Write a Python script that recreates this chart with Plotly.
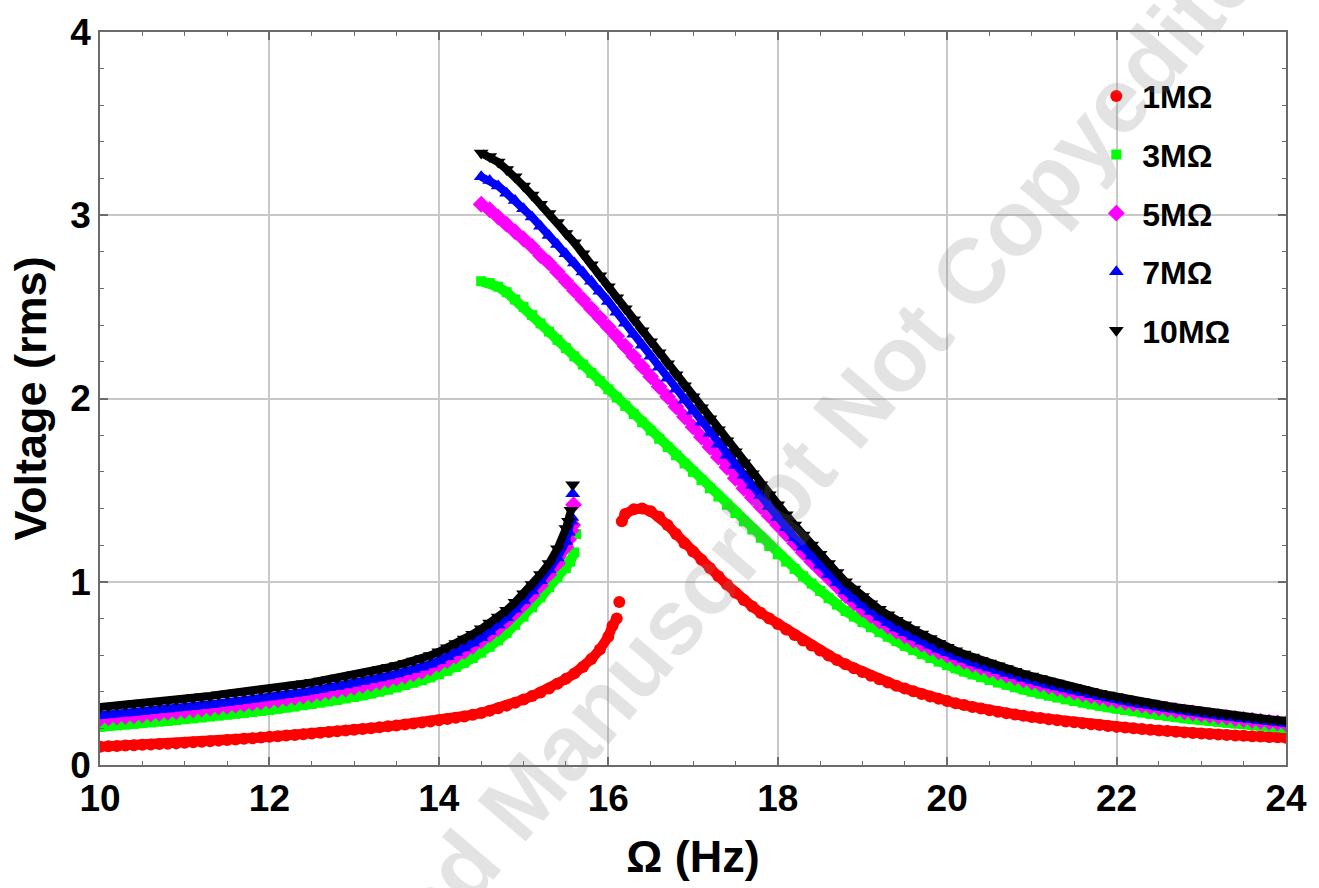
import plotly.graph_objects as go

# ---------------- data ----------------
X_LOW = [10.0, 10.1, 10.2, 10.3, 10.4, 10.5, 10.6, 10.7, 10.8, 10.9,
         11.0, 11.1, 11.2, 11.3, 11.4, 11.5, 11.6, 11.7, 11.8, 11.9,
         12.0, 12.1, 12.2, 12.3, 12.4, 12.5, 12.6, 12.7, 12.8, 12.9,
         13.0, 13.1, 13.2, 13.3, 13.4, 13.5, 13.6, 13.7, 13.8, 13.9,
         14.0, 14.1, 14.2, 14.3, 14.4, 14.5, 14.6, 14.7, 14.8, 14.9,
         15.0, 15.1, 15.2, 15.3, 15.4, 15.5]

X_UP = [14.5, 14.6, 14.7, 14.8, 14.9,
        15.0, 15.1, 15.2, 15.3, 15.4, 15.5, 15.6, 15.7, 15.8, 15.9,
        16.0, 16.1, 16.2, 16.3, 16.4, 16.5, 16.6, 16.7, 16.8, 16.9,
        17.0, 17.1, 17.2, 17.3, 17.4, 17.5, 17.6, 17.7, 17.8, 17.9,
        18.0, 18.1, 18.2, 18.3, 18.4, 18.5, 18.6, 18.7, 18.8, 18.9,
        19.0, 19.1, 19.2, 19.3, 19.4, 19.5, 19.6, 19.7, 19.8, 19.9,
        20.0, 20.1, 20.2, 20.3, 20.4, 20.5, 20.6, 20.7, 20.8, 20.9,
        21.0, 21.1, 21.2, 21.3, 21.4, 21.5, 21.6, 21.7, 21.8, 21.9,
        22.0, 22.1, 22.2, 22.3, 22.4, 22.5, 22.6, 22.7, 22.8, 22.9,
        23.0, 23.1, 23.2, 23.3, 23.4, 23.5, 23.6, 23.7, 23.8, 23.9,
        24.0]

# 1 MOhm (red)
X_R1_LOW = X_LOW + [15.6, 15.7, 15.8, 15.9, 16.0, 16.05, 16.1]
Y_R1_LOW = [0.100, 0.102, 0.104, 0.106, 0.108, 0.110, 0.112, 0.114, 0.116, 0.118,
            0.121, 0.124, 0.127, 0.130, 0.133, 0.136, 0.139, 0.143, 0.146, 0.150,
            0.154, 0.157, 0.161, 0.164, 0.168, 0.172, 0.176, 0.180, 0.184, 0.188,
            0.192, 0.196, 0.201, 0.206, 0.211, 0.216, 0.221, 0.227, 0.232, 0.238,
            0.244, 0.251, 0.258, 0.265, 0.274, 0.284, 0.296, 0.310, 0.324, 0.340,
            0.357, 0.376, 0.396, 0.418, 0.443, 0.470,
            0.500, 0.535, 0.578, 0.630, 0.700, 0.760, 0.800]
X_R1_JUMP = [16.13]
Y_R1_JUMP = [0.890]
X_R1_UP = [16.16, 16.2, 16.3, 16.4, 16.5, 16.6, 16.7, 16.8, 16.9,
           17.0, 17.1, 17.2, 17.3, 17.4, 17.5, 17.6, 17.7, 17.8, 17.9,
           18.0, 18.1, 18.2, 18.3, 18.4, 18.5, 18.6, 18.7, 18.8, 18.9,
           19.0, 19.1, 19.2, 19.3, 19.4, 19.5, 19.6, 19.7, 19.8, 19.9,
           20.0, 20.1, 20.2, 20.3, 20.4, 20.5, 20.6, 20.7, 20.8, 20.9,
           21.0, 21.1, 21.2, 21.3, 21.4, 21.5, 21.6, 21.7, 21.8, 21.9,
           22.0, 22.1, 22.2, 22.3, 22.4, 22.5, 22.6, 22.7, 22.8, 22.9,
           23.0, 23.1, 23.2, 23.3, 23.4, 23.5, 23.6, 23.7, 23.8, 23.9,
           24.0]
Y_R1_UP = [1.33, 1.37, 1.395, 1.40, 1.385, 1.355, 1.31, 1.26, 1.21,
           1.165, 1.12, 1.075, 1.03, 0.985, 0.94, 0.90, 0.865, 0.83, 0.80,
           0.770, 0.740, 0.710, 0.680, 0.652, 0.625, 0.598, 0.573, 0.550, 0.528,
           0.507, 0.487, 0.468, 0.450, 0.433, 0.417, 0.402, 0.388, 0.374, 0.361,
           0.349, 0.337, 0.327, 0.317, 0.308, 0.299, 0.291, 0.283, 0.276, 0.269,
           0.262, 0.256, 0.250, 0.244, 0.238, 0.233, 0.228, 0.223, 0.218, 0.213,
           0.208, 0.204, 0.200, 0.196, 0.192, 0.188, 0.185, 0.181, 0.178, 0.175,
           0.172, 0.169, 0.166, 0.164, 0.161, 0.159, 0.157, 0.155, 0.153, 0.151,
           0.149]

# 3 MOhm (green)
X_R3_LOW = X_LOW + [15.55, 15.6]
Y_R3_LOW = [0.208, 0.212, 0.216, 0.220, 0.224, 0.228, 0.232, 0.236, 0.240, 0.245,
            0.250, 0.254, 0.259, 0.264, 0.269, 0.274, 0.279, 0.284, 0.289, 0.295,
            0.301, 0.307, 0.313, 0.319, 0.326, 0.333, 0.340, 0.347, 0.355, 0.363,
            0.371, 0.380, 0.390, 0.400, 0.411, 0.423, 0.436, 0.449, 0.463, 0.478,
            0.495, 0.514, 0.535, 0.558, 0.584, 0.613, 0.645, 0.680, 0.720, 0.765,
            0.810, 0.860, 0.915, 0.970, 1.025, 1.075,
            1.11, 1.16]
X_R3_JUMP = [15.62]
Y_R3_JUMP = [1.26]
Y_R3_UP = [2.64, 2.63, 2.61, 2.58, 2.54,
           2.50, 2.455, 2.41, 2.365, 2.32, 2.275, 2.23, 2.185, 2.14, 2.095,
           2.05, 2.005, 1.96, 1.915, 1.87, 1.825, 1.78, 1.735, 1.69, 1.645,
           1.60, 1.555, 1.51, 1.465, 1.42, 1.375, 1.33, 1.285, 1.24, 1.195,
           1.15, 1.11, 1.07, 1.03, 0.99, 0.95, 0.91, 0.875, 0.84, 0.81,
           0.78, 0.752, 0.725, 0.70, 0.676, 0.65, 0.627, 0.605, 0.584, 0.564,
           0.545, 0.527, 0.510, 0.494, 0.479, 0.464, 0.450, 0.437, 0.424, 0.412,
           0.400, 0.389, 0.378, 0.368, 0.358, 0.349, 0.340, 0.331, 0.323, 0.315,
           0.307, 0.300, 0.293, 0.286, 0.279, 0.273, 0.267, 0.261, 0.255, 0.250,
           0.245, 0.240, 0.235, 0.230, 0.226, 0.222, 0.218, 0.214, 0.210, 0.206,
           0.202]

# 5 MOhm (magenta)
X_R5_LOW = X_LOW + [15.53, 15.56, 15.58]
Y_R5_LOW = [0.253, 0.257, 0.261, 0.265, 0.269, 0.273, 0.278, 0.282, 0.287, 0.291,
            0.296, 0.301, 0.306, 0.311, 0.316, 0.321, 0.327, 0.332, 0.338, 0.344,
            0.350, 0.356, 0.363, 0.369, 0.376, 0.383, 0.391, 0.399, 0.407, 0.415,
            0.424, 0.433, 0.443, 0.453, 0.463, 0.474, 0.486, 0.498, 0.511, 0.529,
            0.550, 0.570, 0.594, 0.620, 0.648, 0.678, 0.710, 0.745, 0.785, 0.830,
            0.875, 0.925, 0.980, 1.04, 1.10, 1.19,
            1.23, 1.28, 1.31]
X_R5_JUMP = [15.59]
Y_R5_JUMP = [1.42]
Y_R5_UP = [3.06, 3.03, 2.99, 2.95, 2.91,
           2.87, 2.83, 2.78, 2.74, 2.69, 2.64, 2.59, 2.54, 2.49, 2.44,
           2.39, 2.34, 2.285, 2.23, 2.175, 2.12, 2.065, 2.01, 1.955, 1.90,
           1.845, 1.79, 1.735, 1.68, 1.625, 1.565, 1.51, 1.46, 1.41, 1.36,
           1.31, 1.26, 1.21, 1.16, 1.11, 1.065, 1.02, 0.975, 0.925, 0.885,
           0.85, 0.815, 0.785, 0.757, 0.73, 0.705, 0.681, 0.659, 0.638, 0.618,
           0.599, 0.581, 0.564, 0.548, 0.533, 0.518, 0.504, 0.490, 0.477, 0.464,
           0.452, 0.440, 0.429, 0.418, 0.407, 0.397, 0.387, 0.377, 0.368, 0.359,
           0.350, 0.342, 0.334, 0.326, 0.318, 0.311, 0.304, 0.297, 0.290, 0.284,
           0.277, 0.271, 0.265, 0.260, 0.254, 0.249, 0.244, 0.239, 0.234, 0.230,
           0.225]

# 7 MOhm (blue)
X_R7_LOW = X_LOW + [15.53, 15.56, 15.57]
Y_R7_LOW = [0.271, 0.275, 0.279, 0.284, 0.288, 0.292, 0.297, 0.301, 0.306, 0.311,
            0.316, 0.321, 0.326, 0.331, 0.336, 0.342, 0.347, 0.353, 0.359, 0.365,
            0.371, 0.377, 0.384, 0.391, 0.398, 0.405, 0.413, 0.421, 0.429, 0.437,
            0.446, 0.455, 0.465, 0.475, 0.486, 0.497, 0.509, 0.521, 0.534, 0.550,
            0.570, 0.591, 0.614, 0.639, 0.666, 0.695, 0.728, 0.764, 0.804, 0.850,
            0.898, 0.950, 1.005, 1.065, 1.13, 1.22,
            1.27, 1.33, 1.35]
X_R7_JUMP = [15.58]
Y_R7_JUMP = [1.48]
Y_R7_UP = [3.21, 3.19, 3.16, 3.12, 3.08,
           3.035, 2.99, 2.94, 2.89, 2.84, 2.79, 2.74, 2.69, 2.64, 2.585,
           2.53, 2.47, 2.41, 2.35, 2.29, 2.23, 2.17, 2.11, 2.05, 1.99,
           1.93, 1.87, 1.81, 1.75, 1.69, 1.635, 1.58, 1.525, 1.47, 1.41,
           1.35, 1.295, 1.24, 1.19, 1.14, 1.09, 1.04, 0.995, 0.95, 0.91,
           0.873, 0.838, 0.806, 0.776, 0.748, 0.722, 0.698, 0.675, 0.653, 0.632,
           0.612, 0.594, 0.577, 0.560, 0.544, 0.529, 0.514, 0.500, 0.487, 0.474,
           0.461, 0.449, 0.437, 0.426, 0.415, 0.404, 0.394, 0.384, 0.374, 0.365,
           0.356, 0.347, 0.339, 0.331, 0.323, 0.315, 0.308, 0.301, 0.294, 0.288,
           0.281, 0.275, 0.269, 0.264, 0.258, 0.253, 0.248, 0.243, 0.238, 0.234,
           0.229]

# 10 MOhm (black)
X_R10_LOW = X_LOW + [15.53, 15.56]
Y_R10_LOW = [0.316, 0.320, 0.325, 0.329, 0.334, 0.338, 0.343, 0.347, 0.352, 0.357,
             0.362, 0.367, 0.372, 0.377, 0.383, 0.388, 0.394, 0.399, 0.405, 0.411,
             0.417, 0.423, 0.430, 0.437, 0.444, 0.451, 0.459, 0.467, 0.475, 0.483,
             0.492, 0.501, 0.511, 0.521, 0.532, 0.543, 0.555, 0.568, 0.581, 0.598,
             0.618, 0.640, 0.663, 0.688, 0.714, 0.743, 0.775, 0.808, 0.845, 0.888,
             0.935, 0.985, 1.04, 1.10, 1.18, 1.29,
             1.33, 1.39]
X_R10_JUMP = [15.58]
Y_R10_JUMP = [1.53]
Y_R10_UP = [3.34, 3.32, 3.29, 3.25, 3.21,
            3.16, 3.11, 3.06, 3.01, 2.96, 2.90, 2.85, 2.79, 2.73, 2.67,
            2.61, 2.55, 2.49, 2.43, 2.37, 2.31, 2.25, 2.19, 2.13, 2.07,
            2.01, 1.95, 1.89, 1.83, 1.77, 1.71, 1.65, 1.59, 1.53, 1.475,
            1.42, 1.365, 1.31, 1.255, 1.20, 1.15, 1.10, 1.05, 1.00, 0.96,
            0.92, 0.88, 0.85, 0.82, 0.79, 0.765, 0.74, 0.715, 0.69, 0.665,
            0.643, 0.624, 0.606, 0.589, 0.572, 0.556, 0.541, 0.526, 0.512, 0.498,
            0.485, 0.472, 0.459, 0.447, 0.435, 0.424, 0.413, 0.402, 0.392, 0.382,
            0.372, 0.363, 0.354, 0.346, 0.338, 0.330, 0.322, 0.315, 0.308, 0.301,
            0.294, 0.288, 0.282, 0.276, 0.270, 0.265, 0.260, 0.255, 0.250, 0.245,
            0.240]

SERIES_NAMES = ["1MΩ", "3MΩ", "5MΩ", "7MΩ", "10MΩ"]
X_TICKS = [10, 12, 14, 16, 18, 20, 22, 24]
Y_TICKS = [0, 1, 2, 3, 4]

# ---------------- styling ----------------
FONT = "Liberation Sans, Arial, sans-serif"
styles = [
    dict(color="#ff0000", symbol="circle", size=12, band=10),
    dict(color="#00ff00", symbol="square", size=10, band=10),
    dict(color="#ff00ff", symbol="diamond", size=13, band=9),
    dict(color="#0000ff", symbol="triangle-up", size=13, band=8),
    dict(color="#000000", symbol="triangle-down", size=13, band=8),
]
# (lower branch, jump point, upper branch) for each series
series = [
    ((X_R1_LOW, Y_R1_LOW), (X_R1_JUMP, Y_R1_JUMP), (X_R1_UP, Y_R1_UP)),
    ((X_R3_LOW, Y_R3_LOW), (X_R3_JUMP, Y_R3_JUMP), (X_UP, Y_R3_UP)),
    ((X_R5_LOW, Y_R5_LOW), (X_R5_JUMP, Y_R5_JUMP), (X_UP, Y_R5_UP)),
    ((X_R7_LOW, Y_R7_LOW), (X_R7_JUMP, Y_R7_JUMP), (X_UP, Y_R7_UP)),
    ((X_R10_LOW, Y_R10_LOW), (X_R10_JUMP, Y_R10_JUMP), (X_UP, Y_R10_UP)),
]

fig = go.Figure()
for i, ((low, jump, up), name, st) in enumerate(zip(series, SERIES_NAMES, styles)):
    # dense sweep: the markers of each branch touch each other and form a band
    bx = list(low[0]) + [None] + list(up[0])
    by = list(low[1]) + [None] + list(up[1])
    fig.add_trace(go.Scatter(
        x=bx, y=by, mode="lines", showlegend=False, legendgroup=f"g{i}",
        line=dict(color=st["color"], width=st["band"]), connectgaps=False,
        hoverinfo="skip",
    ))
    fig.add_trace(go.Scatter(
        x=list(low[0]) + list(jump[0]) + list(up[0]),
        y=list(low[1]) + list(jump[1]) + list(up[1]),
        mode="markers", name=name, legendgroup=f"g{i}",
        marker=dict(color=st["color"], symbol=st["symbol"], size=st["size"],
                    line=dict(width=0)),
    ))

axis_common = dict(
    showline=True, linecolor="#6b6b6b", linewidth=1.5, mirror="ticks",
    ticks="inside", ticklen=8, tickwidth=1.5, tickcolor="#6b6b6b",
    showgrid=True, gridcolor="#c8c8c8", gridwidth=2, zeroline=False,
    tickfont=dict(family=FONT, size=37, color="black", weight="bold"),
)

fig.update_layout(
    width=1319, height=888,
    margin=dict(l=100, r=26, t=28, b=123),
    paper_bgcolor="white", plot_bgcolor="white",
    font=dict(family=FONT, color="black"),
    showlegend=True,
    legend=dict(
        x=0.835, y=0.95, xanchor="left", yanchor="top",
        bgcolor="rgba(0,0,0,0)", borderwidth=0,
        font=dict(family=FONT, size=32, color="black", weight="bold"),
        tracegroupgap=14, itemsizing="trace", itemwidth=42,
    ),
    xaxis=dict(
        range=[10, 24], tickvals=X_TICKS,
        minor=dict(dtick=0.5, ticks="inside", ticklen=4, tickwidth=1,
                   tickcolor="#6b6b6b", showgrid=False),
        title=dict(text="Ω (Hz)", standoff=22,
                   font=dict(family=FONT, size=45, color="black", weight="bold")),
        **axis_common,
    ),
    yaxis=dict(
        range=[0, 4], tickvals=Y_TICKS,
        minor=dict(dtick=0.2, ticks="inside", ticklen=4, tickwidth=1,
                   tickcolor="#6b6b6b", showgrid=False),
        title=dict(text="Voltage (rms)", standoff=10,
                   font=dict(family=FONT, size=45, color="black", weight="bold")),
        **axis_common,
    ),
)

# faint watermark text of the source picture
fig.add_annotation(
    text="Accepted Manuscript Not Copyedited",
    xref="paper", yref="paper", x=0.542, y=0.31,
    xanchor="center", yanchor="middle",
    showarrow=False, textangle=-49.5,
    font=dict(family=FONT, size=92, color="rgba(128,128,128,0.22)", weight="bold"),
)

fig.write_html("out.html")
